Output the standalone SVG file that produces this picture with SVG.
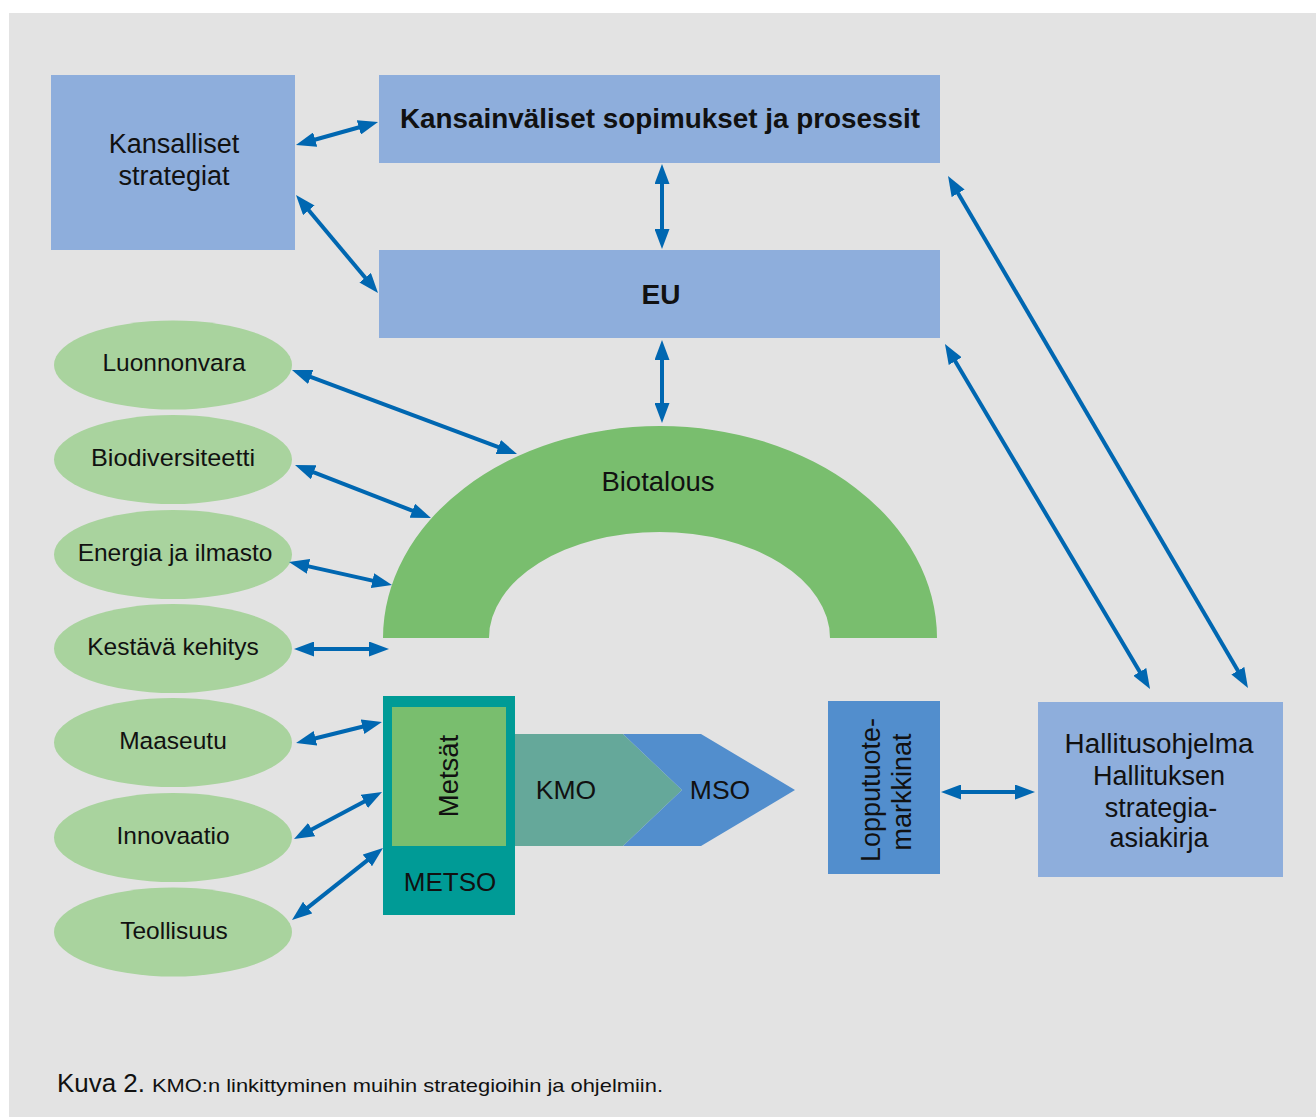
<svg xmlns="http://www.w3.org/2000/svg" width="1316" height="1117" viewBox="0 0 1316 1117">
<style>
text{font-family:"Liberation Sans",Arial,sans-serif;fill:#111;text-anchor:middle}
.box{fill:#8eaedc}
.ell{fill:#a9d39e}
.lbl{font-size:27px}
.elbl{font-size:24.5px}
.bold{font-weight:bold;font-size:28px}
.conn line{stroke:#0067b1;stroke-width:4;marker-start:url(#ah);marker-end:url(#ah)}
</style>
<defs>
<marker id="ah" viewBox="0 0 20 15" refX="8" refY="7.5" markerWidth="20" markerHeight="15" markerUnits="userSpaceOnUse" orient="auto-start-reverse">
<path d="M0,0 L20,7.5 L0,15 z" fill="#0067b1"/>
</marker>
</defs>
<rect x="0" y="0" width="1316" height="1117" fill="#ffffff"/>
<rect x="9" y="13" width="1307" height="1104" fill="#e3e3e3"/>

<g id="kansalliset">
<rect class="box" x="51" y="75" width="244" height="175"/>
<text class="lbl" x="174" y="153">Kansalliset</text>
<text class="lbl" x="174" y="185">strategiat</text>
</g>
<g id="kansainvaliset">
<rect class="box" x="379" y="75" width="561" height="88"/>
<text class="bold" x="660" y="128" textLength="520" lengthAdjust="spacingAndGlyphs">Kansainväliset sopimukset ja prosessit</text>
</g>
<g id="eu">
<rect class="box" x="379" y="250" width="561" height="88"/>
<text class="bold" x="661" y="304">EU</text>
</g>
<g id="biotalous">
<path d="M383,638 A277,212 0 0 1 937,638 L830,638 A170.5,106 0 0 0 489,638 Z" fill="#79be6e"/>
<text x="658" y="491" style="font-size:27.5px">Biotalous</text>
</g>
<g id="luonnonvara"><ellipse class="ell" cx="173" cy="365" rx="119" ry="44.5"/><text class="elbl" x="174" y="371">Luonnonvara</text></g>
<g id="biodiversiteetti"><ellipse class="ell" cx="173" cy="459.5" rx="119" ry="44.5"/><text class="elbl" x="173" y="466" textLength="164" lengthAdjust="spacingAndGlyphs">Biodiversiteetti</text></g>
<g id="energia"><ellipse class="ell" cx="173" cy="554.5" rx="119" ry="44.5"/><text class="elbl" x="175" y="561">Energia ja ilmasto</text></g>
<g id="kestava"><ellipse class="ell" cx="173" cy="648.5" rx="119" ry="44.5"/><text class="elbl" x="173" y="655">Kestävä kehitys</text></g>
<g id="maaseutu"><ellipse class="ell" cx="173" cy="742.5" rx="119" ry="44.5"/><text class="elbl" x="173" y="749">Maaseutu</text></g>
<g id="innovaatio"><ellipse class="ell" cx="173" cy="837.5" rx="119" ry="44.5"/><text class="elbl" x="173" y="844">Innovaatio</text></g>
<g id="teollisuus"><ellipse class="ell" cx="173" cy="932" rx="119" ry="44.5"/><text class="elbl" x="174" y="938.5">Teollisuus</text></g>

<g id="metso">
<rect x="383" y="696" width="132" height="219" fill="#009b96"/>
<rect x="392" y="707" width="114" height="139" fill="#79be6e"/>
<text x="458" y="776" transform="rotate(-90 458 776)" style="font-size:27.5px">Metsät</text>
<text x="450" y="891" style="font-size:26px">METSO</text>
</g>
<g id="kmo">
<polygon points="515,734 623,734 682,790 623,846 515,846" fill="#65a89a"/>
<text x="566" y="799" style="font-size:26.5px">KMO</text>
</g>
<g id="mso">
<polygon points="623,734 701,734 795,790 701,846 623,846 682,790" fill="#528ecd"/>
<text x="720" y="799" style="font-size:26.5px">MSO</text>
</g>
<g id="lopputuote">
<rect x="828" y="701" width="112" height="173" fill="#528ecd"/>
<text x="880" y="790" transform="rotate(-90 880 790)" style="font-size:27px">Lopputuote-</text>
<text x="911" y="792" transform="rotate(-90 911 792)" style="font-size:27px">markkinat</text>
</g>
<g id="hallitus">
<rect class="box" x="1038" y="702" width="245" height="175"/>
<text class="lbl" x="1159" y="753" textLength="189" lengthAdjust="spacingAndGlyphs">Hallitusohjelma</text>
<text class="lbl" x="1159" y="785">Hallituksen</text>
<text class="lbl" x="1161" y="817">strategia-</text>
<text class="lbl" x="1159" y="847">asiakirja</text>
</g>

<g class="conn" id="connectors">
<line x1="307.5" y1="141.8" x2="366.5" y2="125.2"/>
<line x1="303.7" y1="204.2" x2="370.3" y2="283.8"/>
<line x1="662" y1="176" x2="662" y2="237"/>
<line x1="662" y1="352" x2="662" y2="411"/>
<line x1="954.1" y1="186.4" x2="1241.9" y2="677.6"/>
<line x1="951.1" y1="354.3" x2="1143.9" y2="678.7"/>
<line x1="953" y1="792" x2="1023" y2="792"/>
<line x1="303.2" y1="374.2" x2="505.8" y2="449.8"/>
<line x1="306.2" y1="469.4" x2="419.8" y2="513.6"/>
<line x1="300.7" y1="564.6" x2="380.3" y2="582.4"/>
<line x1="306" y1="649" x2="377" y2="649"/>
<line x1="307.7" y1="740.2" x2="370.3" y2="724.8"/>
<line x1="304.6" y1="833.3" x2="371.4" y2="797.7"/>
<line x1="301.4" y1="912.6" x2="373.6" y2="855.4"/>
</g>

<text x="57" y="1092" style="text-anchor:start;font-size:26px" textLength="88" lengthAdjust="spacingAndGlyphs">Kuva 2.</text>
<text x="152" y="1092" style="text-anchor:start;font-size:19px" textLength="511" lengthAdjust="spacingAndGlyphs">KMO:n linkittyminen muihin strategioihin ja ohjelmiin.</text>
</svg>
